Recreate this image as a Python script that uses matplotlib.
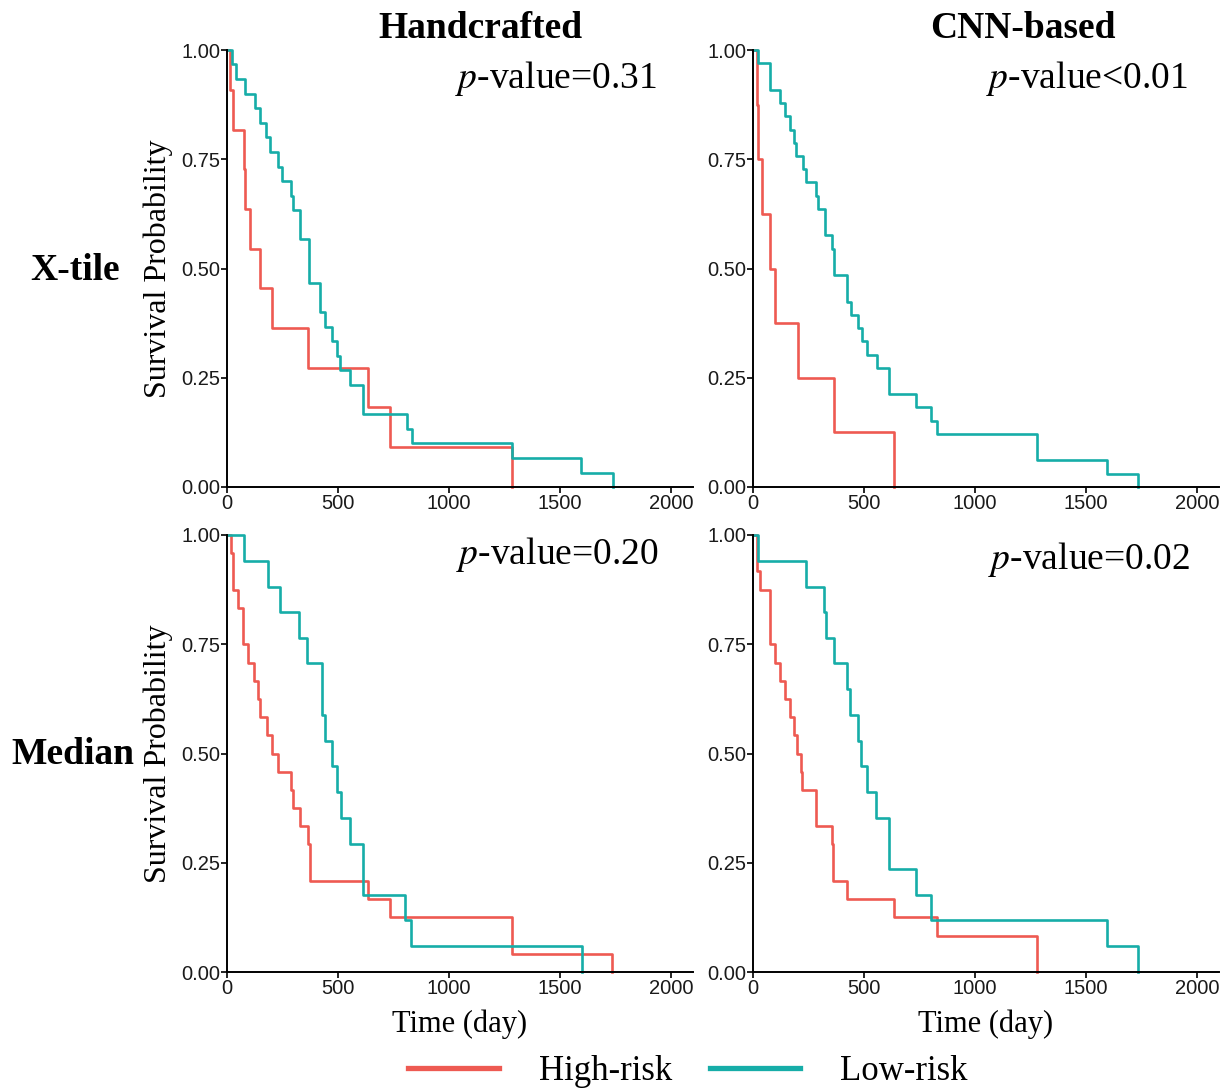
import numpy as np
import matplotlib
matplotlib.use("Agg")
import matplotlib.pyplot as plt

plt.rcParams["mathtext.fontset"] = "stix"

RED = "#EE5A52"
TEAL = "#16ADA8"
SERIF = ["Liberation Serif", "DejaVu Serif"]
SANS = ["Liberation Sans", "DejaVu Sans"]

# X-tile / Handcrafted
xh_high_t = [15, 25, 78, 82, 102, 150, 205, 363, 637, 735, 1285]
xh_high_s = [.909, .818, .727, .636, .545, .455, .364, .273, .182, .091, 0]
xh_low_t = [22, 42, 82, 128, 150, 177, 195, 232, 248, 288, 297, 330, 368, 420, 443,
            473, 495, 510, 555, 615, 810, 833, 1285, 1595, 1740]
xh_low_s = [.967, .933, .900, .867, .833, .800, .767, .733, .700, .667, .633, .567, .467,
            .400, .367, .333, .300, .267, .233, .167, .133, .100, .067, .033, 0]

# X-tile / CNN-based
xc_high_t = [16, 24, 42, 77, 99, 204, 366, 635]
xc_high_s = [.875, .75, .625, .5, .375, .25, .125, 0]
xc_low_t = [24, 77, 122, 144, 166, 186, 196, 226, 241, 286, 294, 324, 357, 366, 422,
            441, 474, 492, 512, 557, 612, 733, 804, 831, 1281, 1595, 1737]
xc_low_s = [.970, .909, .879, .848, .818, .788, .758, .727, .697, .667, .636, .576, .545,
            .485, .424, .394, .364, .333, .303, .273, .212, .182, .152, .121, .061, .030, 0]

# Median / Handcrafted
mh_high_t = [18, 25, 50, 72, 93, 122, 139, 149, 179, 203, 228, 288, 297, 330, 363, 372,
             635, 735, 1285, 1737]
mh_high_s = [.958, .875, .833, .75, .708, .667, .625, .583, .542, .5, .458, .417, .375,
             .333, .292, .208, .167, .125, .042, 0]
mh_low_t = [77, 186, 239, 324, 362, 428, 443, 473, 495, 513, 555, 615, 802, 828, 1598]
mh_low_s = [.941, .882, .824, .765, .706, .588, .529, .471, .412, .353, .294, .176,
            .118, .059, 0]

# Median / CNN-based
mc_high_t = [16, 32, 77, 99, 122, 144, 165, 185, 199, 215, 221, 283, 356, 362, 423,
             635, 830, 1281]
mc_high_s = [.917, .875, .75, .708, .667, .625, .583, .542, .5, .458, .417, .333, .292,
             .208, .167, .125, .083, 0]
mc_low_t = [24, 239, 322, 328, 365, 423, 436, 473, 488, 513, 554, 614, 733, 804, 1596, 1737]
mc_low_s = [.941, .882, .824, .765, .706, .647, .588, .529, .471, .412, .353, .235,
            .176, .118, .059, 0]

p_labels = ["=0.31", "<0.01", "=0.20", "=0.02"]
col_titles = ["Handcrafted", "CNN-based"]
row_titles = ["X-tile", "Median"]
x_ticks = [0, 500, 1000, 1500, 2000]
y_ticks = [0, 0.25, 0.5, 0.75, 1.0]

panels = [
    (xh_high_t, xh_high_s, xh_low_t, xh_low_s),
    (xc_high_t, xc_high_s, xc_low_t, xc_low_s),
    (mh_high_t, mh_high_s, mh_low_t, mh_low_s),
    (mc_high_t, mc_high_s, mc_low_t, mc_low_s),
]
p_pos = [(0.923, 0.935), (0.933, 0.935), (0.927, 0.955), (0.938, 0.945)]

W, H = 1230, 1091
fig = plt.figure(figsize=(W / 100, H / 100), dpi=100)

lefts = [227, 753]
bottoms = [487, 972]
aw, ah = 466, 437

axes = []
for i, (ht, hs, lt, ls) in enumerate(panels):
    r, c = divmod(i, 2)
    ax = fig.add_axes([lefts[c] / W, 1 - bottoms[r] / H, aw / W, ah / H])
    axes.append(ax)
    ax.step([0] + ht, [1.0] + hs, where="post", color=RED, lw=1.9, clip_on=False,
            label="High-risk")
    ax.step([0] + lt, [1.0] + ls, where="post", color=TEAL, lw=1.9, clip_on=False,
            label="Low-risk")
    ax.set_xlim(0, 2100)
    ax.set_ylim(0, 1)
    ax.set_xticks(x_ticks)
    ax.set_yticks(y_ticks)
    ax.set_yticklabels(["%.2f" % v for v in y_ticks])
    for s in ["top", "right"]:
        ax.spines[s].set_visible(False)
    for s in ["left", "bottom"]:
        ax.spines[s].set_linewidth(1.4)
    ax.tick_params(direction="out", length=4, width=1.2, pad=1, labelsize=14.5,
                   labelcolor="#1a1a1a")
    for lab in ax.get_xticklabels() + ax.get_yticklabels():
        lab.set_family(SANS)
    ax.text(p_pos[i][0], p_pos[i][1],
            r"$\mathit{p}$-value" + p_labels[i], transform=ax.transAxes,
            ha="right", va="center", fontsize=27, family=SERIF)
    if c == 0:
        ax.set_ylabel("Survival Probability", fontsize=23, family=SERIF, labelpad=6)
    if r == 1:
        ax.set_xlabel("Time (day)", fontsize=22, family=SERIF, labelpad=8)

fig.text(480 / W, 1 - 29 / H, col_titles[0], ha="center", va="center",
         fontsize=27, fontweight="bold", family=SERIF)
fig.text(1023 / W, 1 - 29 / H, col_titles[1], ha="center", va="center",
         fontsize=27, fontweight="bold", family=SERIF)
fig.text(75 / W, 1 - 270 / H, row_titles[0], ha="center", va="center",
         fontsize=27, fontweight="bold", family=SERIF)
fig.text(73 / W, 1 - 754 / H, row_titles[1], ha="center", va="center",
         fontsize=27, fontweight="bold", family=SERIF)

handles, labels = axes[0].get_legend_handles_labels()
leg = fig.legend(handles, labels, loc="center", bbox_to_anchor=(688 / W, 1 - 1072 / H),
                 ncol=2, frameon=False, handlelength=2.6, handletextpad=1.15,
                 columnspacing=1.1, prop={"family": SERIF, "size": 25})
for line in leg.get_lines():
    line.set_linewidth(3.8)

fig.savefig("out.png", dpi=100)
